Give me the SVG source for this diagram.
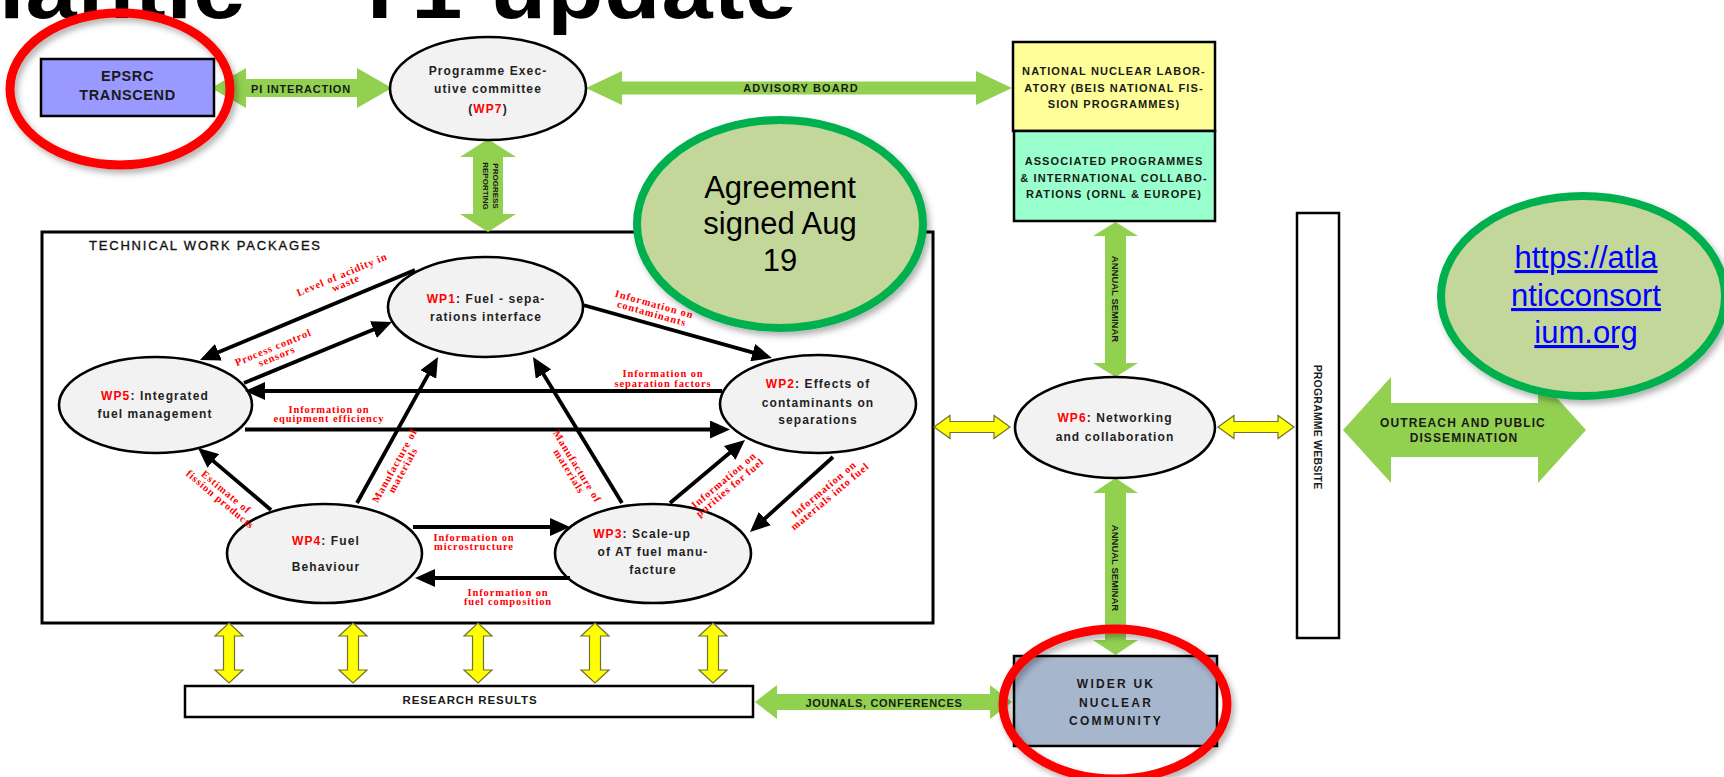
<svg xmlns="http://www.w3.org/2000/svg" width="1724" height="777" viewBox="0 0 1724 777">
<style>
.box{stroke:#000;stroke-width:2.5}
.ell{fill:#f2f2f2;stroke:#000;stroke-width:2.6}
.g{fill:#92d050}
.y{fill:#ffff00;stroke:#707030;stroke-width:1.2}
.bt{font-family:"Liberation Sans",Arial,sans-serif;font-weight:bold;fill:#1a1a1a;text-anchor:middle}
.nt{font-family:"Liberation Sans",Arial,sans-serif;font-weight:bold;fill:#222;text-anchor:middle;font-size:12px;letter-spacing:1.1px}
.red{fill:#ff0000}
.lab{font-family:"Liberation Serif","Times New Roman",serif;font-weight:bold;fill:#ff0000;font-size:10.5px;letter-spacing:0.9px;text-anchor:middle}
.con{stroke:#000;stroke-width:3.8;fill:none;marker-end:url(#ah)}
.big{font-family:"Liberation Sans",Arial,sans-serif;font-size:31px;text-anchor:middle}
</style>
<defs>
<marker id="ah" viewBox="0 0 20 18" refX="6" refY="9" markerWidth="20" markerHeight="18" markerUnits="userSpaceOnUse" orient="auto">
<path d="M0,0 L20,9 L0,18 Z" fill="#000"/>
</marker>
<path id="yv" d="M0,0 L14,13 L5.5,13 L5.5,47 L14,47 L0,60 L-14,47 L-5.5,47 L-5.5,13 L-14,13 Z"/>
<path id="yh" d="M0,0 L16,-11.5 L16,-5.5 L60,-5.5 L60,-11.5 L76,0 L60,11.5 L60,5.5 L16,5.5 L16,11.5 Z"/>
<filter id="sh" x="-20%" y="-20%" width="140%" height="140%">
<feDropShadow dx="3" dy="4" stdDeviation="3" flood-color="#000" flood-opacity="0.3"/>
</filter>
</defs>
<rect width="1724" height="777" fill="#fff"/>

<text id="title" transform="translate(-100,18) scale(1,0.88)" font-family="Liberation Sans,Arial,sans-serif" font-weight="bold" font-size="92" letter-spacing="1" fill="#000">Atlantic – Y1 update</text>

<g id="technical-work-packages">
<rect x="42" y="232" width="891" height="391" fill="#fff" stroke="#000" stroke-width="3"/>
<text x="89" y="250" font-family="Liberation Sans,Arial,sans-serif" font-size="13" letter-spacing="1.8" fill="#111" stroke="#111" stroke-width="0.35">TECHNICAL WORK PACKAGES</text>
</g>

<g id="green-arrows">
<polygon class="g" points="211,88 246,68 246,79 357,79 357,68 392,88 357,108 357,97 246,97 246,108"/>
<text class="bt" x="301" y="93" font-size="11" letter-spacing="0.8">PI INTERACTION</text>
<polygon class="g" points="586,88 622,71 622,81.5 976,81.5 976,71 1012,88 976,105 976,94.5 622,94.5 622,105"/>
<text class="bt" x="801" y="92" font-size="11" letter-spacing="1.1">ADVISORY BOARD</text>
<polygon class="g" points="488,139 516,157 503,157 503,214 516,214 488,232 460,214 473,214 473,157 460,157"/>
<text class="bt" transform="translate(488,186) rotate(90)" font-size="8"><tspan x="0" y="-5">PROGRESS</tspan><tspan x="0" y="5">REPORTING</tspan></text>
<polygon class="g" points="1115.5,222 1138,236 1126,236 1126,363 1138,363 1115.5,377 1093,363 1105,363 1105,236 1093,236"/>
<text class="bt" transform="translate(1115.5,299) rotate(90)" font-size="9.5" y="3.5">ANNUAL SEMINAR</text>
<polygon class="g" points="1115.5,478 1138,493 1126,493 1126,640 1138,640 1115.5,655 1093,640 1105,640 1105,493 1093,493"/>
<text class="bt" transform="translate(1115.5,568) rotate(90)" font-size="9.5" y="3.5">ANNUAL SEMINAR</text>
<polygon class="g" points="755,702 777,685 777,694 990,694 990,685 1012,702 990,719 990,710 777,710 777,719"/>
<text class="bt" x="884" y="706.5" font-size="11" letter-spacing="0.7">JOUNALS, CONFERENCES</text>
<polygon class="g" points="1343,430 1391,377 1391,403 1538,403 1538,377 1586,430 1538,483 1538,457 1391,457 1391,483"/>
<text class="bt" x="1463" y="427" font-size="12" letter-spacing="1.1">OUTREACH AND PUBLIC</text>
<text class="bt" x="1464" y="442" font-size="12" letter-spacing="1.1">DISSEMINATION</text>
</g>

<g id="yellow-arrows">
<use href="#yh" class="y" x="934" y="427"/>
<use href="#yh" class="y" x="1218" y="427"/>
<use href="#yv" class="y" x="229" y="623"/>
<use href="#yv" class="y" x="353" y="623"/>
<use href="#yv" class="y" x="478" y="623"/>
<use href="#yv" class="y" x="595" y="623"/>
<use href="#yv" class="y" x="713" y="623"/>
</g>

<g id="epsrc">
<rect class="box" x="41" y="59" width="173" height="57" fill="#9999ff"/>
<text class="bt" x="127.5" y="80.5" font-size="14.5" letter-spacing="0.6">EPSRC</text>
<text class="bt" x="127.5" y="100" font-size="14.5" letter-spacing="0.6">TRANSCEND</text>
</g>

<g id="wp7">
<ellipse class="ell" cx="488" cy="88.5" rx="98" ry="51.5"/>
<text class="nt" x="488" y="75" font-size="11.5">Programme Exec-</text>
<text class="nt" x="488" y="93" font-size="11.5">utive committee</text>
<text class="nt" x="488" y="113" font-size="11.5">(<tspan class="red">WP7</tspan>)</text>
</g>

<g id="nnl">
<rect class="box" x="1013" y="42" width="202" height="89" fill="#ffff99"/>
<text class="bt" x="1114" y="75" font-size="11" letter-spacing="1.1">NATIONAL NUCLEAR LABOR-</text>
<text class="bt" x="1114" y="91.5" font-size="11" letter-spacing="1.1">ATORY (BEIS NATIONAL FIS-</text>
<text class="bt" x="1114" y="108" font-size="11" letter-spacing="1.1">SION PROGRAMMES)</text>
</g>

<g id="associated">
<rect class="box" x="1014" y="131" width="201" height="90" fill="#99ffcc"/>
<text class="bt" x="1114" y="164.5" font-size="11" letter-spacing="1.1">ASSOCIATED PROGRAMMES</text>
<text class="bt" x="1114" y="181.5" font-size="11" letter-spacing="1.1">&amp; INTERNATIONAL COLLABO-</text>
<text class="bt" x="1114" y="197.5" font-size="11" letter-spacing="1.1">RATIONS (ORNL &amp; EUROPE)</text>
</g>

<g id="wp1">
<ellipse class="ell" cx="485.5" cy="307" rx="97.5" ry="50"/>
<text class="nt" x="486" y="303"><tspan class="red">WP1</tspan>: Fuel - sepa-</text>
<text class="nt" x="486" y="321">rations interface</text>
</g>

<g id="wp5">
<ellipse class="ell" cx="155.5" cy="405" rx="96.5" ry="48"/>
<text class="nt" x="155" y="400"><tspan class="red">WP5</tspan>: Integrated</text>
<text class="nt" x="155" y="418">fuel management</text>
</g>

<g id="wp2">
<ellipse class="ell" cx="818" cy="404" rx="98" ry="49"/>
<text class="nt" x="818" y="388"><tspan class="red">WP2</tspan>: Effects of</text>
<text class="nt" x="818" y="407">contaminants on</text>
<text class="nt" x="818" y="424">separations</text>
</g>

<g id="wp4">
<ellipse class="ell" cx="324.5" cy="553.5" rx="97.5" ry="49.5"/>
<text class="nt" x="326" y="545"><tspan class="red">WP4</tspan>: Fuel</text>
<text class="nt" x="326" y="571">Behaviour</text>
</g>

<g id="wp3">
<ellipse class="ell" cx="653" cy="553.5" rx="98" ry="49.5"/>
<text class="nt" x="642" y="538"><tspan class="red">WP3</tspan>: Scale-up</text>
<text class="nt" x="653" y="556">of AT fuel manu-</text>
<text class="nt" x="653" y="574">facture</text>
</g>

<g id="wp6">
<ellipse class="ell" cx="1115" cy="427.5" rx="100" ry="50.5"/>
<text class="nt" x="1115" y="422" font-size="12.5" letter-spacing="1.3"><tspan class="red">WP6</tspan>: Networking</text>
<text class="nt" x="1115" y="441" font-size="12.5" letter-spacing="1.3">and collaboration</text>
</g>

<g id="programme-website">
<rect class="box" x="1297" y="213" width="42" height="425" fill="#fff"/>
<text class="bt" transform="translate(1318,427) rotate(90)" y="4" font-size="10.5" letter-spacing="0.2">PROGRAMME WEBSITE</text>
</g>

<g id="research-results">
<rect class="box" x="185" y="686" width="568" height="31" fill="#fff"/>
<text class="bt" x="470" y="704" font-size="11.5" letter-spacing="0.9">RESEARCH RESULTS</text>
</g>

<g id="wider-uk">
<rect class="box" x="1014" y="656" width="203" height="90" fill="#a6b7cd"/>
<text class="bt" x="1116" y="688" font-size="12" letter-spacing="2.2">WIDER UK</text>
<text class="bt" x="1116" y="706.5" font-size="12" letter-spacing="2.2">NUCLEAR</text>
<text class="bt" x="1116" y="725" font-size="12" letter-spacing="2.2">COMMUNITY</text>
</g>

<g id="connectors">
<line class="con" x1="415" y1="270" x2="212.9" y2="354.6"/>
<line class="con" x1="244" y1="383" x2="379" y2="327.3"/>
<line class="con" x1="722" y1="391" x2="259" y2="391"/>
<line class="con" x1="245" y1="429.5" x2="716" y2="429.5"/>
<line class="con" x1="357" y1="503" x2="431.2" y2="369.2"/>
<line class="con" x1="622" y1="503" x2="540.3" y2="369"/>
<line class="con" x1="271" y1="510" x2="208.7" y2="457.1"/>
<line class="con" x1="413" y1="527" x2="556" y2="527"/>
<line class="con" x1="570" y1="578" x2="429" y2="578"/>
<line class="con" x1="670" y1="503" x2="734.3" y2="449"/>
<line class="con" x1="833" y1="457" x2="760.4" y2="522.6"/>
<line class="con" x1="583" y1="305" x2="758.5" y2="354.2"/>
</g>

<g id="connector-labels">
<text class="lab" transform="translate(344,279) rotate(-22.7)"><tspan x="0" y="-1.5">Level of acidity in</tspan><tspan x="0" y="8">waste</tspan></text>
<text class="lab" transform="translate(275,352) rotate(-22.4)"><tspan x="0" y="-1.5">Process control</tspan><tspan x="0" y="8">sensors</tspan></text>
<text class="lab" x="663" y="377">Information on</text>
<text class="lab" x="663" y="386.5">separation factors</text>
<text class="lab" x="329" y="413">Information on</text>
<text class="lab" x="329" y="422">equipment efficiency</text>
<text class="lab" transform="translate(399,468) rotate(-61)"><tspan x="0" y="-1.5">Manufacture of</tspan><tspan x="0" y="8">materials</tspan></text>
<text class="lab" transform="translate(573,469) rotate(58.6)"><tspan x="0" y="-1.5">Manufacture of</tspan><tspan x="0" y="8">materials</tspan></text>
<text class="lab" transform="translate(223,496) rotate(40)"><tspan x="0" y="-1.5">Estimate of</tspan><tspan x="0" y="8">fission products</tspan></text>
<text class="lab" x="474" y="541">Information on</text>
<text class="lab" x="474" y="550">microstructure</text>
<text class="lab" x="508" y="596">Information on</text>
<text class="lab" x="508" y="605">fuel composition</text>
<text class="lab" transform="translate(727,484) rotate(-40)"><tspan x="0" y="-1.5">Information on</tspan><tspan x="0" y="8">purities for fuel</tspan></text>
<text class="lab" transform="translate(827,493) rotate(-40)"><tspan x="0" y="-1.5">Information on</tspan><tspan x="0" y="8">materials into fuel</tspan></text>
<text class="lab" transform="translate(653,309) rotate(15.7)"><tspan x="0" y="-1.5">Information on</tspan><tspan x="0" y="8">contaminants</tspan></text>
</g>

<g id="agreement">
<ellipse cx="780" cy="224" rx="143" ry="104" fill="#c4d79b" stroke="#00b050" stroke-width="8" filter="url(#sh)"/>
<text class="big" x="780" y="198">Agreement</text>
<text class="big" x="780" y="234">signed Aug</text>
<text class="big" x="780" y="271">19</text>
</g>

<g id="website-link">
<ellipse cx="1583" cy="296" rx="142" ry="100" fill="#c4d79b" stroke="#00b050" stroke-width="8" filter="url(#sh)"/>
<text class="big" x="1586" y="268" fill="#0000ff" text-decoration="underline">https://atla</text>
<text class="big" x="1586" y="306" fill="#0000ff" text-decoration="underline">nticconsort</text>
<text class="big" x="1586" y="343" fill="#0000ff" text-decoration="underline">ium.org</text>
</g>

<g id="highlights">
<ellipse cx="120" cy="89" rx="110" ry="76" fill="none" stroke="#ff0000" stroke-width="9" filter="url(#sh)"/>
<ellipse cx="1115" cy="704" rx="112" ry="75" fill="none" stroke="#ff0000" stroke-width="9" filter="url(#sh)"/>
</g>
</svg>
